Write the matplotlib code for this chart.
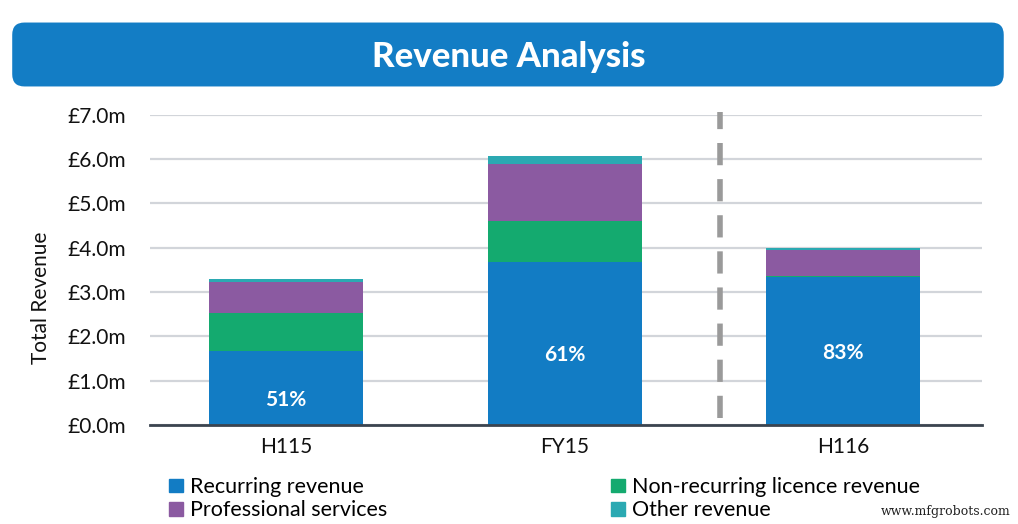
import matplotlib.pyplot as plt
from matplotlib.patches import FancyBboxPatch, Patch

# values in £m
periods = ['H115', 'FY15', 'H116']
recurring = [1.68, 3.68, 3.33]
non_recurring = [0.84, 0.92, 0.03]
professional = [0.70, 1.28, 0.58]
other = [0.08, 0.18, 0.06]
recurring_share = ['51%', '61%', '83%']
y_ticks = [0, 1, 2, 3, 4, 5, 6, 7]

C_REC = '#127cc4'
C_NON = '#14aa6f'
C_PRO = '#8b5aa1'
C_OTH = '#2ba9b2'
C_HEAD = '#137dc5'

plt.rcParams['font.family'] = ['Lato', 'DejaVu Sans']

fig = plt.figure(figsize=(10.18, 5.24), dpi=100)
ax = fig.add_axes([0.147, 0.189, 0.818, 0.592])

# title banner
box = FancyBboxPatch((0.012, 0.835), 0.974, 0.122, boxstyle='round,pad=0,rounding_size=0.012',
                     transform=fig.transFigure, facecolor=C_HEAD, edgecolor='none', mutation_aspect=1.94)
fig.patches.append(box)
fig.text(0.5, 0.891, 'Revenue Analysis', color='white', fontsize=25, fontweight='black',
         ha='center', va='center')

x = list(range(len(periods)))
w = 0.553
bottom = [0.0] * len(x)
for vals, col in [(recurring, C_REC), (non_recurring, C_NON), (professional, C_PRO), (other, C_OTH)]:
    ax.bar(x, vals, w, bottom=bottom, color=col, edgecolor='none', zorder=3)
    bottom = [b + v for b, v in zip(bottom, vals)]

# share labels sit in the lower part of the recurring block
label_y = [0.56, 1.58, 1.62]
for xi, ly, lab in zip(x, label_y, recurring_share):
    ax.text(xi, ly, lab, color='white', fontsize=15, fontweight='bold',
            ha='center', va='center', zorder=4)

# divider between FY15 and H116
ax.plot([1.558, 1.558], [0.15, 7.07], color='#9a9a9a', lw=4, ls=(0, (4, 2.5)),
        clip_on=False, zorder=2)

ax.set_xlim(-0.49, 2.5)
ax.set_ylim(0, 7.0)
ax.set_yticks(y_ticks)
ax.set_yticklabels([f'£{v:.1f}m' for v in y_ticks])
ax.set_xticks(x)
ax.set_xticklabels(periods)
ax.tick_params(axis='both', length=0, labelsize=15, colors='#111111')
ax.tick_params(axis='y', pad=17)
ax.tick_params(axis='x', pad=9)
ax.grid(axis='y', color='#d2d5da', lw=1.6, zorder=0)
for s in ['top', 'right', 'left']:
    ax.spines[s].set_visible(False)
ax.spines['bottom'].set_color('#3b444f')
ax.spines['bottom'].set_linewidth(2)
ax.spines['bottom'].set_zorder(5)
ax.set_ylabel('Total Revenue', fontsize=15, color='#111111')
ax.yaxis.set_label_coords(-0.118, 0.41)

handles = [Patch(color=C_REC, label='Recurring revenue'),
           Patch(color=C_PRO, label='Professional services'),
           Patch(color=C_NON, label='Non-recurring licence revenue'),
           Patch(color=C_OTH, label='Other revenue')]
fig.legend(handles=handles, ncol=2, loc='upper left', bbox_to_anchor=(0.158, 0.106),
           frameon=False, fontsize=15.5, handlelength=0.62, handleheight=0.62,
           handletextpad=0.35, columnspacing=10.4, labelspacing=0.15, borderaxespad=0)

fig.text(0.993, 0.012, 'www.mfgrobots.com', fontsize=9, family='DejaVu Serif',
         ha='right', va='bottom', color='#222222')

fig.savefig('out.png', dpi=100)
